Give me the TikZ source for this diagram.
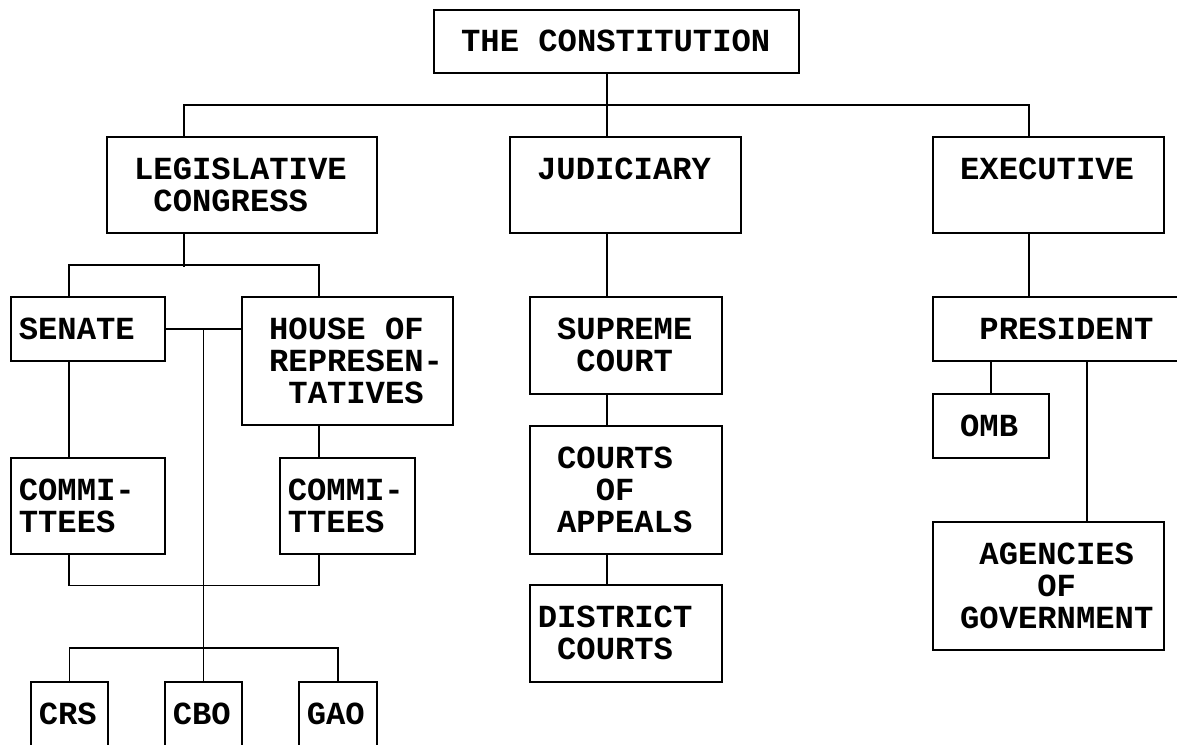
\documentclass[tikz,border=0pt]{standalone}
\usepackage{fontspec}
\setmonofont{Liberation Mono}
\hyphenpenalty=10000
% blanks, one character wide each
\newcommand{\indt}[1]{\hspace*{#1\dimexpr0.6em\relax}}

\begin{document}
\begin{tikzpicture}[x=1pt, y=1pt,
  box/.style={draw, line width=1.6pt, anchor=north west, align=left,
              inner xsep=8pt, inner ysep=0pt,
              font=\ttfamily\bfseries\fontsize{32.2pt}{32pt}\selectfont},
  wh/.style 2 args={minimum width=#1pt, text width=#1pt-16pt, minimum height=#2pt},
  link/.style={draw, line width=1.6pt}]
\useasboundingbox (0,0) rectangle (1177,-744);

\node[box, wh={365}{63}] (const) at (433,-9) {\indt{1}THE\indt{1}CONSTITUTION};

\node[box, wh={270}{96}] (leg) at (106,-136) {\indt{1}LEGISLATIVE\\\indt{2}CONGRESS};
\node[box, wh={231}{96}] (jud) at (509,-136) {\indt{1}JUDICIARY\\\mbox{}};
\node[box, wh={231}{96}] (exe) at (932,-136) {\indt{1}EXECUTIVE\\\mbox{}};

% legislative branch
\node[box, wh={154}{64}] (senate) at (10,-296) {SENATE};
\node[box, wh={211}{128}] (house) at (241,-296) {\indt{1}HOUSE\indt{1}OF\\\indt{1}REPRESEN-\\\indt{2}TATIVES};
\node[box, wh={154}{96}] (scom) at (10,-457) {COMMI-\\TTEES};
\node[box, wh={135}{96}] (hcom) at (279,-457) {COMMI-\\TTEES};
\node[box, wh={77}{65}] (crs) at (30,-681) {CRS};
\node[box, wh={77}{65}] (cbo) at (164,-681) {CBO};
\node[box, wh={78}{65}] (gao) at (298,-681) {GAO};

% judicial branch
\node[box, wh={192}{97}] (sup) at (529,-296) {\indt{1}SUPREME\\\indt{2}COURT};
\node[box, wh={192}{128}] (app) at (529,-425) {\indt{1}COURTS\\\indt{3}OF\\\indt{1}APPEALS};
\node[box, wh={192}{97}] (dist) at (529,-584) {DISTRICT\\\indt{1}COURTS};

% executive branch
\node[box, wh={268}{64}] (pres) at (932,-296) {\indt{2}PRESIDENT};
\node[box, wh={116}{64}] (omb) at (932,-393) {\indt{1}OMB};
\node[box, wh={231}{128}] (agen) at (932,-521) {\indt{2}AGENCIES\\\indt{5}OF\\\indt{1}GOVERNMENT};

% top level
\draw[link] ([xshift=-9.5pt]const.south) -- ([xshift=-18.5pt]jud.north);
\draw[link] ([xshift=-58pt]leg.north) -- ++(0,31) -| ([xshift=-19.5pt]exe.north);

% congress
\draw[link] ([xshift=-58pt]leg.south) -- ++(0,-33);
\draw[link] ([xshift=-19pt]senate.north) -- ++(0,31) -| ([xshift=-28.5pt]house.north);
\draw[link] (senate.east) -- (senate.east -| house.west);
\draw[link] (senate.east -| cbo.north) -- (cbo.north);
\draw[link] ([xshift=-19pt]senate.south) -- ([xshift=-19pt]scom.north);
\draw[link] ([xshift=-28.5pt]house.south) -- ([xshift=-28.5pt]hcom.north);
\draw[link] ([xshift=-19pt]scom.south) -- ++(0,-31) -| ([xshift=-28.5pt]hcom.south);
\draw[link] (crs.north) -- ++(0,33) -| (gao.north);

% courts
\draw[link] ([xshift=-18.5pt]jud.south) -- ([xshift=-19pt]sup.north);
\draw[link] ([xshift=-19pt]sup.south) -- ([xshift=-19pt]app.north);
\draw[link] ([xshift=-19pt]app.south) -- ([xshift=-19pt]dist.north);

% president
\draw[link] ([xshift=-19.5pt]exe.south) -- ([xshift=-19.5pt]exe.south |- pres.north);
\draw[link] (omb.north |- pres.south) -- (omb.north);
\draw[link] ([xshift=38.5pt]agen.north |- pres.south) -- ([xshift=38.5pt]agen.north);
\end{tikzpicture}
\end{document}
